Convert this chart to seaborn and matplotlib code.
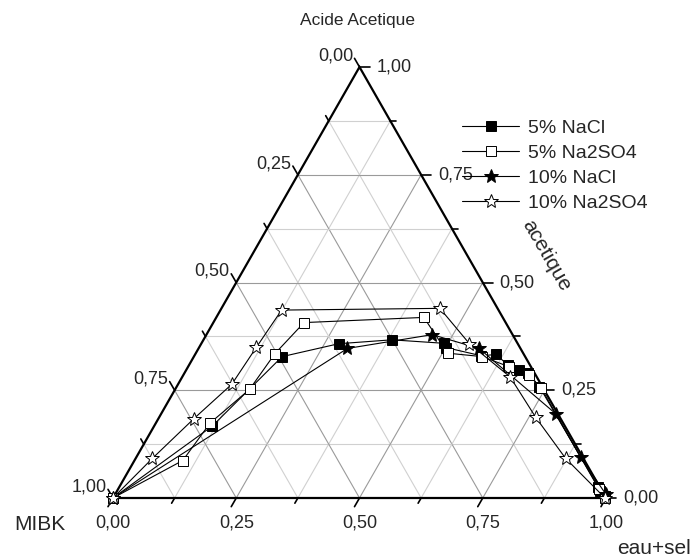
import numpy as np
import pandas as pd
import matplotlib
matplotlib.use("Agg")
import matplotlib.pyplot as plt
import seaborn as sns

# ternary data: fraction of "eau+sel" and of "acetique" (MIBK = rest)
nacl5_eau = [0.0, 0.118, 0.179, 0.279, 0.382, 0.491, 0.501, 0.582, 0.611, 0.647, 0.675, 0.697, 0.736, 0.971, 0.979, 0.995]
nacl5_ac = [0.0, 0.167, 0.328, 0.358, 0.367, 0.359, 0.349, 0.330, 0.333, 0.308, 0.298, 0.290, 0.258, 0.026, 0.017, 0.004]

na2so4_5_eau = [0.0, 0.098, 0.110, 0.151, 0.161, 0.184, 0.421, 0.511, 0.585, 0.650, 0.700, 0.740, 0.975, 0.998]
na2so4_5_ac = [0.0, 0.087, 0.174, 0.252, 0.335, 0.407, 0.419, 0.336, 0.328, 0.305, 0.286, 0.256, 0.021, 0.0]

nacl10_eau = [0.0, 0.302, 0.458, 0.569, 0.801, 0.901, 0.995]
nacl10_ac = [0.0, 0.347, 0.379, 0.347, 0.195, 0.095, 0.009]

na2so4_10_eau = [0.0, 0.034, 0.072, 0.109, 0.116, 0.124, 0.443, 0.544, 0.665, 0.764, 0.872, 0.998]
na2so4_10_ac = [0.0, 0.092, 0.184, 0.264, 0.350, 0.436, 0.440, 0.358, 0.281, 0.187, 0.092, 0.0]

tick_vals = [0.0, 0.25, 0.5, 0.75, 1.0]
tick_labels = ["0,00", "0,25", "0,50", "0,75", "1,00"]

H = np.sqrt(3) / 2
W, HT = 700, 558
SX = 493.0          # px per unit along x
SY = 431.0 / H      # px per unit along y


def to_xy(eau, ac):
    eau = np.asarray(eau, float)
    ac = np.asarray(ac, float)
    return eau + ac / 2, ac * H


sns.set_style("white")
plt.rcParams["font.family"] = ["Liberation Sans", "DejaVu Sans"]

fig = plt.figure(figsize=(7, 5.58), dpi=100)
ax = fig.add_axes([0, 0, 1, 1])
ax.set_xlim(-113 / SX, (W - 113) / SX)
ax.set_ylim(-(HT - 498) / SY, 498 / SY)
ax.axis("off")

# grid
for k in range(1, 8):
    v = k / 8
    col = "#9a9a9a" if k % 2 == 0 else "#d0d0d0"
    x, y = to_xy([0, 1 - v], [v, v])
    ax.plot(x, y, color=col, lw=0.8, zorder=1)
    x, y = to_xy([v, v], [0, 1 - v])
    ax.plot(x, y, color=col, lw=0.8, zorder=1)
    x, y = to_xy([1 - v, 0], [0, 1 - v])
    ax.plot(x, y, color=col, lw=0.8, zorder=1)

# triangle
x, y = to_xy([0, 1, 0, 0], [0, 0, 1, 0])
ax.plot(x, y, color="black", lw=1.6, zorder=3, solid_joinstyle="miter")

# ticks
for k in range(0, 9):
    v = k / 8
    ln = 10 if k % 2 == 0 else 6
    bx, by = to_xy(v, 0)
    ax.plot([bx, bx - 0.5 * ln / SX], [by, by - H * ln / SY], color="black", lw=1.2, zorder=3)
    rx, ry = to_xy(1 - v, v)
    ax.plot([rx, rx + ln / SX], [ry, ry], color="black", lw=1.2, zorder=3)
    lx, ly = to_xy(0, 1 - v)
    ax.plot([lx, lx - 0.5 * ln / SX], [ly, ly + H * ln / SY], color="black", lw=1.2, zorder=3)

for v, lab in zip(tick_vals, tick_labels):
    bx, by = to_xy(v, 0)
    ax.text(bx, by - 25 / SY, lab, ha="center", va="center", fontsize=13)
    rx, ry = to_xy(1 - v, v)
    ax.text(rx + 17 / SX, ry, lab, ha="left", va="center", fontsize=13)
    lx, ly = to_xy(0, 1 - v)
    ax.text(lx - 24 / SX, ly + 11 / SY, lab, ha="center", va="center", fontsize=13)

# series
series = [
    ("5% NaCl", nacl5_eau, nacl5_ac, "s", "black", 7),
    ("5% Na2SO4", na2so4_5_eau, na2so4_5_ac, "s", "white", 7),
    ("10% NaCl", nacl10_eau, nacl10_ac, "*", "black", 10),
    ("10% Na2SO4", na2so4_10_eau, na2so4_10_ac, "*", "white", 10),
]
for name, e, a, mk, fc, ms in series:
    x, y = to_xy(e, a)
    df = pd.DataFrame({"x": x, "y": y})
    sns.lineplot(data=df, x="x", y="y", ax=ax, sort=False, estimator=None,
                 color="black", lw=0.8, marker=mk, markersize=ms,
                 markerfacecolor=fc, markeredgecolor="black", mew=0.7,
                 label=name, zorder=4)

ax.legend(loc="upper left", bbox_to_anchor=(462 / W, 1 - 119 / HT), frameon=False,
          fontsize=14, handlelength=2.95, handletextpad=0.45, labelspacing=0.38,
          borderpad=0, borderaxespad=0)

fig.text(357 / W, 1 - 20 / HT, "Acide Acetique", ha="center", va="center", fontsize=12.5)
fig.text(546 / W, 1 - 256 / HT, "acetique", ha="center", va="center", rotation=-60, fontsize=15)
fig.text(40 / W, 1 - 525 / HT, "MIBK", ha="center", va="center", fontsize=15)
fig.text(654 / W, 1 - 549 / HT, "eau+sel", ha="center", va="center", fontsize=15)

fig.savefig("out.png", dpi=100)
